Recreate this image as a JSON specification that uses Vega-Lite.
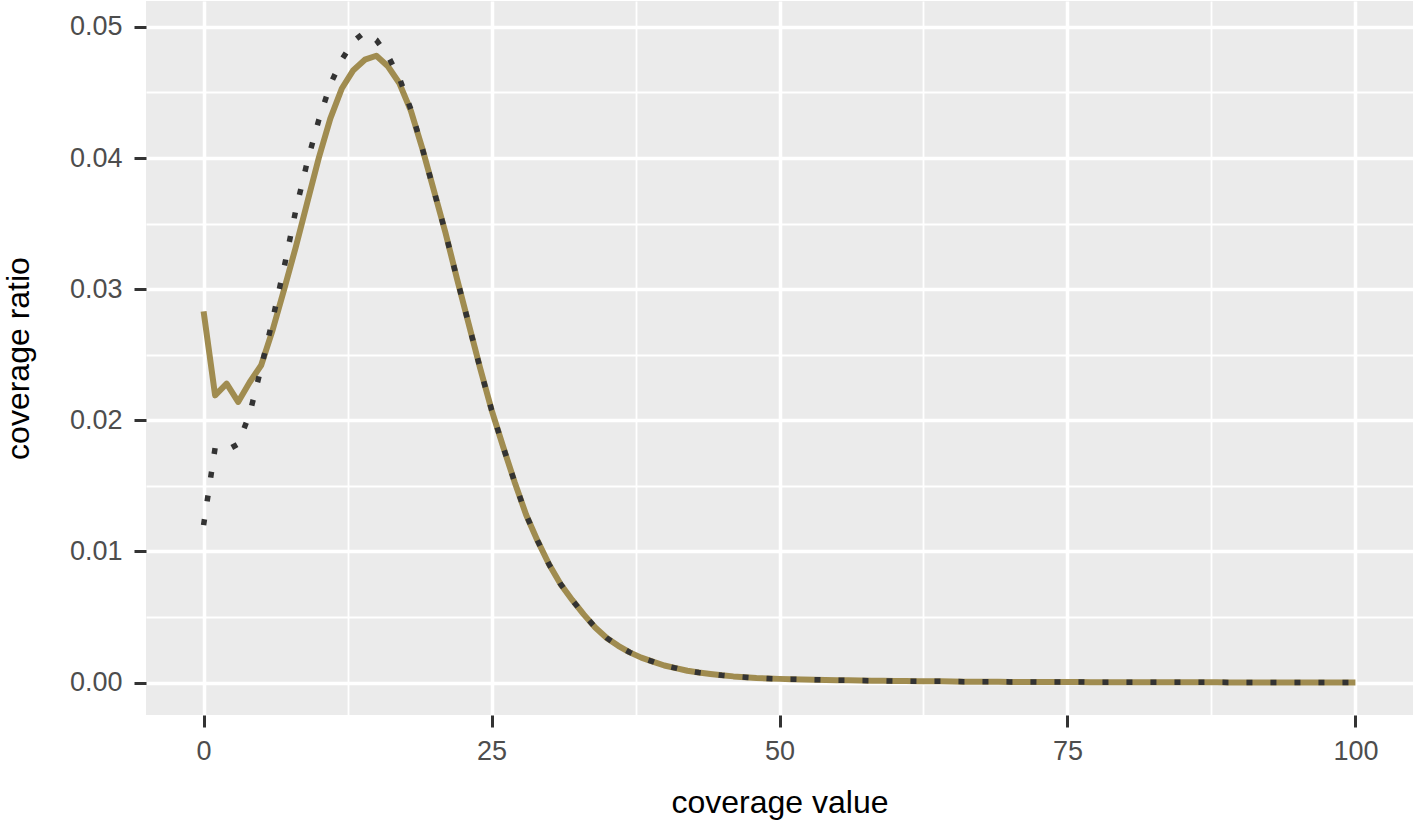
{
  "$schema": "https://vega.github.io/schema/vega-lite/v6.json",
  "width": 1267,
  "height": 714,
  "autosize": {"type": "none"},
  "padding": {"left": 146, "top": 1, "right": 5, "bottom": 106},
  "background": "white",
  "config": {"view": {"fill": "#EBEBEB", "stroke": null}, "font": "Liberation Sans"},
  "datasets": {
    "observed": [
      {"coverage": 0, "ratio": 0.0283}, {"coverage": 1, "ratio": 0.0219}, {"coverage": 2, "ratio": 0.0228}, {"coverage": 3, "ratio": 0.0214},
      {"coverage": 4, "ratio": 0.0229}, {"coverage": 5, "ratio": 0.0242}, {"coverage": 6, "ratio": 0.0269}, {"coverage": 7, "ratio": 0.0300},
      {"coverage": 8, "ratio": 0.0332}, {"coverage": 9, "ratio": 0.0366}, {"coverage": 10, "ratio": 0.0400}, {"coverage": 11, "ratio": 0.0430},
      {"coverage": 12, "ratio": 0.0453}, {"coverage": 13, "ratio": 0.0467}, {"coverage": 14, "ratio": 0.0475}, {"coverage": 15, "ratio": 0.0478},
      {"coverage": 16, "ratio": 0.0470}, {"coverage": 17, "ratio": 0.0457}, {"coverage": 18, "ratio": 0.0436}, {"coverage": 19, "ratio": 0.0407},
      {"coverage": 20, "ratio": 0.0375}, {"coverage": 21, "ratio": 0.0343}, {"coverage": 22, "ratio": 0.0308}, {"coverage": 23, "ratio": 0.0274},
      {"coverage": 24, "ratio": 0.0240}, {"coverage": 25, "ratio": 0.0208}, {"coverage": 26, "ratio": 0.0180}, {"coverage": 27, "ratio": 0.0153},
      {"coverage": 28, "ratio": 0.0128}, {"coverage": 29, "ratio": 0.0108}, {"coverage": 30, "ratio": 0.0090}, {"coverage": 31, "ratio": 0.0075},
      {"coverage": 32, "ratio": 0.0063}, {"coverage": 33, "ratio": 0.0052}, {"coverage": 34, "ratio": 0.0042}, {"coverage": 35, "ratio": 0.0034},
      {"coverage": 36, "ratio": 0.0028}, {"coverage": 37, "ratio": 0.0023}, {"coverage": 38, "ratio": 0.0019}, {"coverage": 39, "ratio": 0.0016},
      {"coverage": 40, "ratio": 0.0013}, {"coverage": 41, "ratio": 0.0011}, {"coverage": 42, "ratio": 0.0009}, {"coverage": 43, "ratio": 0.00076},
      {"coverage": 44, "ratio": 0.00065}, {"coverage": 45, "ratio": 0.00055}, {"coverage": 46, "ratio": 0.00047}, {"coverage": 47, "ratio": 0.00041},
      {"coverage": 48, "ratio": 0.00035}, {"coverage": 49, "ratio": 0.00031}, {"coverage": 50, "ratio": 0.00028}, {"coverage": 51, "ratio": 0.00026},
      {"coverage": 52, "ratio": 0.00024}, {"coverage": 53, "ratio": 0.00022}, {"coverage": 54, "ratio": 0.00020}, {"coverage": 55, "ratio": 0.00018},
      {"coverage": 56, "ratio": 0.00017}, {"coverage": 57, "ratio": 0.00015}, {"coverage": 58, "ratio": 0.00014}, {"coverage": 59, "ratio": 0.00013},
      {"coverage": 60, "ratio": 0.00012}, {"coverage": 61, "ratio": 0.00011}, {"coverage": 62, "ratio": 0.00010}, {"coverage": 63, "ratio": 0.00009},
      {"coverage": 64, "ratio": 0.00009}, {"coverage": 65, "ratio": 0.00008}, {"coverage": 66, "ratio": 0.00007}, {"coverage": 67, "ratio": 0.00007},
      {"coverage": 68, "ratio": 0.00006}, {"coverage": 69, "ratio": 0.00006}, {"coverage": 70, "ratio": 0.00005}, {"coverage": 71, "ratio": 0.00005},
      {"coverage": 72, "ratio": 0.00005}, {"coverage": 73, "ratio": 0.00004}, {"coverage": 74, "ratio": 0.00004}, {"coverage": 75, "ratio": 0.00004},
      {"coverage": 76, "ratio": 0.00004}, {"coverage": 77, "ratio": 0.00003}, {"coverage": 78, "ratio": 0.00003}, {"coverage": 79, "ratio": 0.00003},
      {"coverage": 80, "ratio": 0.00003}, {"coverage": 81, "ratio": 0.00003}, {"coverage": 82, "ratio": 0.00002}, {"coverage": 83, "ratio": 0.00002},
      {"coverage": 84, "ratio": 0.00002}, {"coverage": 85, "ratio": 0.00002}, {"coverage": 86, "ratio": 0.00002}, {"coverage": 87, "ratio": 0.00002},
      {"coverage": 88, "ratio": 0.00002}, {"coverage": 89, "ratio": 0.00001}, {"coverage": 90, "ratio": 0.00001}, {"coverage": 91, "ratio": 0.00001},
      {"coverage": 92, "ratio": 0.00001}, {"coverage": 93, "ratio": 0.00001}, {"coverage": 94, "ratio": 0.00001}, {"coverage": 95, "ratio": 0.00001},
      {"coverage": 96, "ratio": 0.00001}, {"coverage": 97, "ratio": 0.00001}, {"coverage": 98, "ratio": 0.00001}, {"coverage": 99, "ratio": 0.00001},
      {"coverage": 100, "ratio": 0.00001}
    ],
    "expected": [
      {"coverage": 0, "ratio": 0.0120}, {"coverage": 1, "ratio": 0.0179}, {"coverage": 2, "ratio": 0.0177}, {"coverage": 3, "ratio": 0.0182},
      {"coverage": 4, "ratio": 0.0205}, {"coverage": 5, "ratio": 0.0240}, {"coverage": 6, "ratio": 0.0277}, {"coverage": 7, "ratio": 0.0317},
      {"coverage": 8, "ratio": 0.0360}, {"coverage": 9, "ratio": 0.0397}, {"coverage": 10, "ratio": 0.0429}, {"coverage": 11, "ratio": 0.0456},
      {"coverage": 12, "ratio": 0.0475}, {"coverage": 13, "ratio": 0.0489}, {"coverage": 14, "ratio": 0.0496}, {"coverage": 15, "ratio": 0.0490},
      {"coverage": 16, "ratio": 0.0478}, {"coverage": 17, "ratio": 0.0461}, {"coverage": 18, "ratio": 0.0437}, {"coverage": 19, "ratio": 0.0407},
      {"coverage": 20, "ratio": 0.0375}, {"coverage": 21, "ratio": 0.0343}, {"coverage": 22, "ratio": 0.0308}, {"coverage": 23, "ratio": 0.0274},
      {"coverage": 24, "ratio": 0.0240}, {"coverage": 25, "ratio": 0.0208}, {"coverage": 26, "ratio": 0.0180}, {"coverage": 27, "ratio": 0.0153},
      {"coverage": 28, "ratio": 0.0128}, {"coverage": 29, "ratio": 0.0108}, {"coverage": 30, "ratio": 0.0090}, {"coverage": 31, "ratio": 0.0075},
      {"coverage": 32, "ratio": 0.0063}, {"coverage": 33, "ratio": 0.0052}, {"coverage": 34, "ratio": 0.0042}, {"coverage": 35, "ratio": 0.0034},
      {"coverage": 36, "ratio": 0.0028}, {"coverage": 37, "ratio": 0.0023}, {"coverage": 38, "ratio": 0.0019}, {"coverage": 39, "ratio": 0.0016},
      {"coverage": 40, "ratio": 0.0013}, {"coverage": 41, "ratio": 0.0011}, {"coverage": 42, "ratio": 0.0009}, {"coverage": 43, "ratio": 0.00076},
      {"coverage": 44, "ratio": 0.00065}, {"coverage": 45, "ratio": 0.00055}, {"coverage": 46, "ratio": 0.00047}, {"coverage": 47, "ratio": 0.00041},
      {"coverage": 48, "ratio": 0.00035}, {"coverage": 49, "ratio": 0.00031}, {"coverage": 50, "ratio": 0.00028}, {"coverage": 51, "ratio": 0.00026},
      {"coverage": 52, "ratio": 0.00024}, {"coverage": 53, "ratio": 0.00022}, {"coverage": 54, "ratio": 0.00020}, {"coverage": 55, "ratio": 0.00018},
      {"coverage": 56, "ratio": 0.00017}, {"coverage": 57, "ratio": 0.00015}, {"coverage": 58, "ratio": 0.00014}, {"coverage": 59, "ratio": 0.00013},
      {"coverage": 60, "ratio": 0.00012}, {"coverage": 61, "ratio": 0.00011}, {"coverage": 62, "ratio": 0.00010}, {"coverage": 63, "ratio": 0.00009},
      {"coverage": 64, "ratio": 0.00009}, {"coverage": 65, "ratio": 0.00008}, {"coverage": 66, "ratio": 0.00007}, {"coverage": 67, "ratio": 0.00007},
      {"coverage": 68, "ratio": 0.00006}, {"coverage": 69, "ratio": 0.00006}, {"coverage": 70, "ratio": 0.00005}, {"coverage": 71, "ratio": 0.00005},
      {"coverage": 72, "ratio": 0.00005}, {"coverage": 73, "ratio": 0.00004}, {"coverage": 74, "ratio": 0.00004}, {"coverage": 75, "ratio": 0.00004},
      {"coverage": 76, "ratio": 0.00004}, {"coverage": 77, "ratio": 0.00003}, {"coverage": 78, "ratio": 0.00003}, {"coverage": 79, "ratio": 0.00003},
      {"coverage": 80, "ratio": 0.00003}, {"coverage": 81, "ratio": 0.00003}, {"coverage": 82, "ratio": 0.00002}, {"coverage": 83, "ratio": 0.00002},
      {"coverage": 84, "ratio": 0.00002}, {"coverage": 85, "ratio": 0.00002}, {"coverage": 86, "ratio": 0.00002}, {"coverage": 87, "ratio": 0.00002},
      {"coverage": 88, "ratio": 0.00002}, {"coverage": 89, "ratio": 0.00001}, {"coverage": 90, "ratio": 0.00001}, {"coverage": 91, "ratio": 0.00001},
      {"coverage": 92, "ratio": 0.00001}, {"coverage": 93, "ratio": 0.00001}, {"coverage": 94, "ratio": 0.00001}, {"coverage": 95, "ratio": 0.00001},
      {"coverage": 96, "ratio": 0.00001}, {"coverage": 97, "ratio": 0.00001}, {"coverage": 98, "ratio": 0.00001}, {"coverage": 99, "ratio": 0.00001},
      {"coverage": 100, "ratio": 0.00001}
    ]
  },
  "resolve": {"axis": {"x": "independent", "y": "independent"}},
  "layer": [
    {
      "data": {"name": "observed"},
      "mark": {"type": "line", "color": "#A08C50", "strokeWidth": 6, "strokeJoin": "round", "strokeCap": "butt"},
      "encoding": {
        "x": {
          "field": "coverage", "type": "quantitative",
          "scale": {"domain": [-5, 105], "nice": false, "zero": false},
          "axis": {
            "orient": "bottom", "values": [0, 25, 50, 75, 100], "format": "d",
            "domain": false, "grid": true, "gridColor": "#FFFFFF", "gridWidth": 3.5,
            "ticks": true, "tickColor": "#333333", "tickSize": 12, "tickWidth": 3,
            "labelFontSize": 27, "labelColor": "#4D4D4D", "labelPadding": 11, "labelFont": "Liberation Sans",
            "title": "coverage value", "titleFontSize": 32, "titleFontWeight": "normal", "titleColor": "#000000",
            "titleFont": "Liberation Sans", "titleBaseline": "alphabetic", "titleY": 97
          }
        },
        "y": {
          "field": "ratio", "type": "quantitative",
          "scale": {"domain": [-0.002475, 0.051975], "nice": false, "zero": false},
          "axis": {
            "orient": "left", "values": [0, 0.01, 0.02, 0.03, 0.04, 0.05], "format": ".2f",
            "domain": false, "grid": true, "gridColor": "#FFFFFF", "gridWidth": 3.5,
            "ticks": true, "tickColor": "#333333", "tickSize": 12, "tickWidth": 3,
            "labelFontSize": 27, "labelColor": "#4D4D4D", "labelPadding": 12, "labelFont": "Liberation Sans",
            "title": "coverage ratio", "titleFontSize": 32, "titleFontWeight": "normal", "titleColor": "#000000",
            "titleFont": "Liberation Sans", "titleBaseline": "alphabetic", "titleX": -118
          }
        }
      }
    },
    {
      "data": {"name": "expected"},
      "mark": {"type": "line", "color": "#333333", "strokeWidth": 5.5, "strokeDash": [6, 18], "strokeCap": "butt"},
      "encoding": {
        "x": {
          "field": "coverage", "type": "quantitative",
          "axis": {
            "orient": "top", "values": [12.5, 37.5, 62.5, 87.5],
            "domain": false, "ticks": false, "labels": false, "title": null,
            "grid": true, "gridColor": "#FFFFFF", "gridWidth": 1.8
          }
        },
        "y": {
          "field": "ratio", "type": "quantitative",
          "axis": {
            "orient": "right", "values": [0.005, 0.015, 0.025, 0.035, 0.045],
            "domain": false, "ticks": false, "labels": false, "title": null,
            "grid": true, "gridColor": "#FFFFFF", "gridWidth": 1.8
          }
        }
      }
    }
  ]
}
